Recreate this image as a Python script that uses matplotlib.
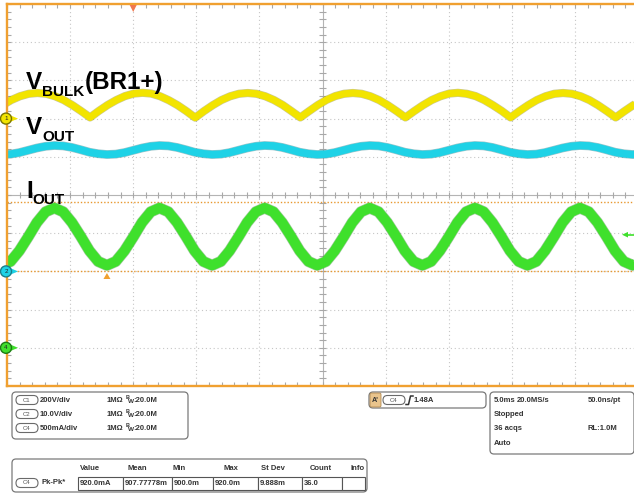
import numpy as np
import matplotlib
matplotlib.use("Agg")
import matplotlib.pyplot as plt
from matplotlib.transforms import IdentityTransform
from matplotlib.patches import FancyBboxPatch, Polygon, Circle
from matplotlib.collections import LineCollection

W, H = 634, 493
DPI = 100

# ---- acquisition settings ----
TIME_PER_DIV = 5.0      # ms/div
H_DIVS = 10
V_DIVS = 10
T_LEFT = -10.0          # ms at left edge of graticule (trigger 2 div from left)
RIPPLE_PERIOD = 8.33    # ms (120 Hz)
DT = RIPPLE_PERIOD / 12 # ms between listed samples

CH_SCALE = {"C1": 200.0, "C2": 10.0, "C4": 0.5}   # units/div
CH_POS = {"C1": 2.0, "C2": -2.0, "C4": -4.0}      # div

# C1: bulk voltage after bridge, V (first sample at a valley)
vbulk_t0 = -11.75
vbulk = [
    6, 39, 70, 97, 117, 130, 134, 130, 117, 97, 70, 39,
    6, 40, 71, 97, 118, 131, 135, 131, 117, 96, 70, 39,
    5, 39, 70, 97, 117, 130, 134, 130, 117, 97, 71, 39,
    6, 39, 71, 98, 118, 130, 134, 130, 117, 97, 70, 39,
    6, 39, 70, 97, 117, 131, 135, 130, 118, 97, 70, 40,
    6, 39, 70, 97, 117, 130, 134, 130, 117, 97, 70, 39,
    6, 39, 70, 97,
]

# C2: output voltage, V (first sample at a trough)
vout_t0 = -10.41
vout = [
    30.6, 30.7, 31.1, 31.7, 32.3, 32.75, 32.95, 32.85, 32.45, 31.85, 31.2, 30.8,
    30.6, 30.7, 31.1, 31.7, 32.3, 32.75, 32.95, 32.85, 32.45, 31.85, 31.2, 30.8,
    30.6, 30.7, 31.1, 31.7, 32.3, 32.75, 32.95, 32.85, 32.45, 31.85, 31.2, 30.8,
    30.6, 30.7, 31.1, 31.7, 32.3, 32.75, 32.95, 32.85, 32.45, 31.85, 31.2, 30.8,
    30.6, 30.7, 31.1, 31.7, 32.3, 32.75, 32.95, 32.85, 32.45, 31.85, 31.2, 30.8,
    30.6, 30.7, 31.1, 31.7, 32.3, 32.75, 32.95, 32.85, 32.45, 31.85, 31.2, 30.8,
    30.6, 30.7,
]

# C4: output current, A (first sample at a trough)
iout_t0 = -10.41
iout = [
    1.08, 1.13, 1.27, 1.45, 1.64, 1.78, 1.83, 1.78, 1.64, 1.46, 1.27, 1.13,
    1.08, 1.13, 1.27, 1.45, 1.64, 1.78, 1.83, 1.78, 1.64, 1.46, 1.27, 1.13,
    1.08, 1.13, 1.27, 1.45, 1.64, 1.78, 1.83, 1.78, 1.64, 1.46, 1.27, 1.13,
    1.08, 1.13, 1.27, 1.45, 1.64, 1.78, 1.83, 1.78, 1.64, 1.46, 1.27, 1.13,
    1.08, 1.13, 1.27, 1.45, 1.64, 1.78, 1.83, 1.78, 1.64, 1.46, 1.27, 1.13,
    1.08, 1.13, 1.27, 1.45, 1.64, 1.78, 1.83, 1.78, 1.64, 1.46, 1.27, 1.13,
    1.08, 1.13,
]

# measurement gates / markers on C4
cursor_max = 1.91
cursor_min = 1.00
trigger_level = 1.48
min_time = -2.08

# readout panels
channel_rows = [("C1", "200V/div"), ("C2", "10.0V/div"), ("C4", "500mA/div")]
meas_headers = ["Value", "Mean", "Min", "Max", "St Dev", "Count", "Info"]
meas_values = ["920.0mA", "907.77778m", "900.0m", "920.0m", "9.888m", "36.0", ""]
trigger_text = "1.48A"
timebase_rows = [("5.0ms", "20.0MS/s", "50.0ns/pt"), ("Stopped", "", ""),
                 ("36 acqs", "", "RL:1.0M"), ("Auto", "", "")]

YELLOW = "#f2e400"
CYAN = "#1ed2e6"
GREEN = "#3fe02c"
ORANGE = "#f0a030"
GRID = "#c6c6c6"
TEXT = "#333333"
FONT = "Liberation Sans"
PANEL_SIZE = 5.5


def to_div(vals, ch):
    return np.asarray(vals, dtype=float) / CH_SCALE[ch] + CH_POS[ch]


fig = plt.figure(figsize=(W / DPI, H / DPI), dpi=DPI)
fig.patch.set_facecolor("white")

px_per_div_x = 63.1
ax = fig.add_axes([7 / W, (H - 386) / H, H_DIVS * px_per_div_x / W, 382 / H])
t_right = T_LEFT + H_DIVS * TIME_PER_DIV
ax.set_xlim(T_LEFT, t_right)
ax.set_ylim(-V_DIVS / 2, V_DIVS / 2)
ax.axis("off")

# dotted graticule
for k in range(1, H_DIVS):
    if k == H_DIVS // 2:
        continue
    ax.axvline(T_LEFT + k * TIME_PER_DIV, color=GRID, lw=0.8, ls=(0, (1, 2.5)), zorder=1)
for k in range(1, V_DIVS):
    if k == V_DIVS // 2:
        continue
    ax.axhline(-V_DIVS / 2 + k, color=GRID, lw=0.8, ls=(0, (1, 2.5)), zorder=1)

# center axes with minor ticks
tc = T_LEFT + H_DIVS / 2 * TIME_PER_DIV
ax.axvline(tc, color="#b4b4b4", lw=0.8, zorder=1)
ax.axhline(0, color="#b4b4b4", lw=0.8, zorder=1)
segs = []
xt = np.arange(T_LEFT, t_right + 1e-6, TIME_PER_DIV / 5)
yt = np.arange(-V_DIVS / 2, V_DIVS / 2 + 1e-6, 0.2)
dx = 0.25   # ms
dy = 0.075  # div
for x in xt:
    segs.append([(x, -dy), (x, dy)])
    segs.append([(x, V_DIVS / 2), (x, V_DIVS / 2 - 0.1)])
    segs.append([(x, -V_DIVS / 2), (x, -V_DIVS / 2 + 0.1)])
for y in yt:
    segs.append([(tc - dx, y), (tc + dx, y)])
    segs.append([(T_LEFT, y), (T_LEFT + 0.3, y)])
ax.add_collection(LineCollection(segs, colors="#a8a8a8", linewidths=0.8, zorder=1))

# cursor gates
for lvl in (cursor_max, cursor_min):
    ax.axhline(lvl / CH_SCALE["C4"] + CH_POS["C4"], color="#e8982e", lw=1.0,
               ls=(0, (1, 1.4)), zorder=2)

# traces
traces = [
    (vbulk_t0, vbulk, "C1", YELLOW, "#8f8a10", 5.0),
    (vout_t0, vout, "C2", CYAN, "#1c7f8a", 5.4),
    (iout_t0, iout, "C4", GREEN, "#2a8a20", 7.2),
]
for t0, vals, ch, col, edge, lw in traces:
    t = t0 + DT * np.arange(len(vals))
    y = to_div(vals, ch)
    ax.plot(t, y, color=edge, lw=lw + 0.9, alpha=0.45, solid_joinstyle="round",
            solid_capstyle="butt", zorder=3)
    ax.plot(t, y, color=col, lw=lw, solid_joinstyle="round",
            solid_capstyle="butt", zorder=4)

# orange border
bkw = dict(color=ORANGE, lw=1.7, zorder=6, clip_on=False, solid_capstyle="projecting")
ax.plot([T_LEFT, T_LEFT], [-V_DIVS / 2, V_DIVS / 2], **bkw)
ax.plot([T_LEFT, t_right], [V_DIVS / 2, V_DIVS / 2], **bkw)
ax.plot([T_LEFT, t_right], [-V_DIVS / 2, -V_DIVS / 2], **bkw)

ID = IdentityTransform()


def fy(y):
    return H - y


def to_px(t, ydiv):
    x = 7 + (t - T_LEFT) / TIME_PER_DIV * px_per_div_x
    y = 195 - ydiv * 38.2
    return x, y


# trigger position marker (top)
xp, _ = to_px(0.0, 0)
fig.add_artist(Polygon([(xp - 3.5, fy(5)), (xp + 3.5, fy(5)), (xp, fy(12))],
                       closed=True, fc="#f07850", ec="none", transform=ID, zorder=10))
# min location marker
xm, _ = to_px(min_time, 0)
fig.add_artist(Polygon([(xm - 3.5, fy(279)), (xm + 3.5, fy(279)), (xm, fy(273))],
                       closed=True, fc=ORANGE, ec="none", transform=ID, zorder=10))
# trigger level marker (right)
_, yl = to_px(0, trigger_level / CH_SCALE["C4"] + CH_POS["C4"])
fig.add_artist(Polygon([(622, fy(yl)), (628, fy(yl - 2.8)), (628, fy(yl + 2.8))],
                       closed=True, fc=GREEN, ec="none", transform=ID, zorder=10))
fig.add_artist(plt.Line2D([627, 634], [fy(yl), fy(yl)], color=GREEN, lw=1.2,
                          transform=ID, zorder=10))

# channel ground markers
for ch, num, fc, ec in [("C1", "1", YELLOW, "#7a7400"), ("C2", "2", CYAN, "#1a7f8a"),
                        ("C4", "4", GREEN, "#1e7a14")]:
    _, yy = to_px(0, CH_POS[ch])
    fig.add_artist(Polygon([(11, fy(yy - 3)), (11, fy(yy + 3)), (18, fy(yy))],
                           closed=True, fc=fc, ec="none", transform=ID, zorder=11))
    fig.add_artist(Circle((6, fy(yy)), 5.5, fc=fc, ec=ec, lw=1.0, transform=ID, zorder=12))
    fig.text(6, fy(yy), num, transform=ID, fontsize=4.5, ha="center", va="center",
             color="#222", family=FONT, zorder=13)

# signal labels
renderer = fig.canvas.get_renderer()


def signal_label(x, base, main, sub, tail="", sub_drop=6.5):
    kw = dict(transform=ID, fontweight="bold", family=FONT, color="black",
              va="baseline", ha="left", zorder=14)
    t1 = fig.text(x, fy(base), main, fontsize=17.5, **kw)
    x1 = t1.get_window_extent(renderer).x1
    t2 = fig.text(x1, fy(base + sub_drop), sub, fontsize=11, **kw)
    x2 = t2.get_window_extent(renderer).x1
    if tail:
        fig.text(x2, fy(base), tail, fontsize=17.5, **kw)


signal_label(26, 89, "V", "BULK", "(BR1+)")
signal_label(26, 134.5, "V", "OUT")
signal_label(26, 198, "I", "OUT")


# readout panels
def panel(x0, y0, x1, y1, r=4):
    fig.add_artist(FancyBboxPatch((x0, fy(y1)), x1 - x0, y1 - y0,
                                  boxstyle=f"round,pad=0,rounding_size={r}",
                                  fc="white", ec="#7a7a7a", lw=0.9, transform=ID, zorder=20))


def badge(x0, yc, label, w=22, h=9):
    fig.add_artist(FancyBboxPatch((x0, fy(yc) - h / 2), w, h,
                                  boxstyle=f"round,pad=0,rounding_size={h / 2}",
                                  fc="white", ec="#6a6a6a", lw=0.8, transform=ID, zorder=21))
    fig.text(x0 + w / 2, fy(yc), label, transform=ID, fontsize=4.3, ha="center",
             va="center", color="#555", family=FONT, zorder=22)


def txt(x, y, s, size=PANEL_SIZE, ha="left", weight="bold", color=TEXT):
    fig.text(x, fy(y), s, transform=ID, fontsize=size, ha=ha, va="center",
             fontweight=weight, color=color, family=FONT, zorder=22)


panel(12, 392, 188, 439)
for i, (ch, scale) in enumerate(channel_rows):
    yc = 400 + i * 14
    badge(16, yc, ch)
    txt(40, yc, scale)
    txt(107, yc, "1MΩ")
    txt(125.5, yc - 2.3, "B", size=4.0)
    txt(127.5, yc + 1.8, "W", size=4.6)
    txt(133.5, yc, ":20.0M")

panel(12, 459, 367, 492)
col_edges = [78, 123, 172, 213, 258, 302, 342, 365]
head_x = [90, 137, 179, 231, 273, 321, 358]
for hx, hname in zip(head_x, meas_headers):
    txt(hx, 469, hname, ha="center")
badge(16, 483, "C4")
txt(42, 483, "Pk-Pk*")
for i, val in enumerate(meas_values):
    x0, x1 = col_edges[i], col_edges[i + 1]
    fig.add_artist(plt.Rectangle((x0, fy(490)), x1 - x0, 13, fc="white", ec="#555",
                                 lw=0.8, transform=ID, zorder=21))
    if val:
        txt(x0 + 2, 483.5, val)

panel(369, 392, 486, 408)
fig.add_artist(FancyBboxPatch((370, fy(407)), 11, 14, boxstyle="round,pad=0,rounding_size=1.5",
                              fc="#e9c48c", ec="#b08850", lw=0.6, transform=ID, zorder=21))
txt(375.5, 400, "A'", size=5.2, ha="center")
badge(383, 400, "C4")
fig.add_artist(plt.Line2D([406, 408.5, 410.5, 413], [fy(404.5), fy(404.5), fy(396), fy(396)],
                          color=TEXT, lw=1.1, transform=ID, zorder=22))
txt(414, 400, trigger_text)

panel(490, 392, 634, 454)
for i, (left, mid, right) in enumerate(timebase_rows):
    yc = 400 + i * 14.5
    txt(494, yc, left)
    if mid:
        txt(517, yc, mid)
    if right:
        txt(588, yc, right)

fig.savefig("out.png", dpi=DPI, facecolor="white")
